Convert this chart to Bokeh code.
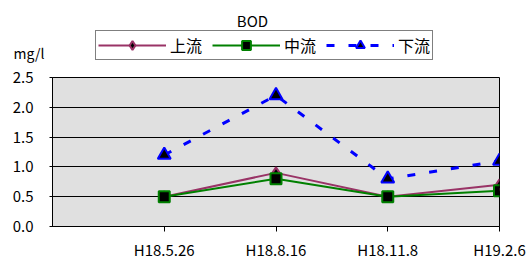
from bokeh.plotting import figure
from bokeh.layouts import column
from bokeh.models import Range1d, FixedTicker, NumeralTickFormatter, Legend, LegendItem, Label
from bokeh.embed import file_html
from bokeh.resources import INLINE

dates = ["H18.5.26", "H18.8.16", "H18.11.8", "H19.2.6"]
upstream = [0.5, 0.9, 0.5, 0.7]
midstream = [0.5, 0.8, 0.5, 0.6]
downstream = [1.2, 2.2, 0.8, 1.1]
y_ticks = [0.0, 0.5, 1.0, 1.5, 2.0, 2.5]
series_names = ["上流", "中流", "下流"]

FONT = "Noto Sans CJK JP"
xs = list(range(1, len(dates) + 1))
series = [upstream, midstream, downstream]

styles = [
    dict(color="#993366", width=2, dash="solid", marker="diamond", size=11),
    dict(color="#008000", width=2, dash="solid", marker="square", size=11),
    dict(color="#0000ff", width=3, dash="8 14", marker="triangle", size=13),
]

# ---------- header (title, unit, legend) ----------
W = 529
HEAD_H = 67
head = figure(width=W, height=HEAD_H, output_backend="svg", toolbar_location=None,
              x_range=Range1d(0, W), y_range=Range1d(HEAD_H, 0),
              x_axis_type=None, y_axis_type=None, min_border=0)
head.frame_align = False
head.outline_line_color = None
head.xgrid.grid_line_color = None
head.ygrid.grid_line_color = None
head.background_fill_color = "white"
head.border_fill_color = "white"

items = []
for name, vals, st in zip(series_names, series, styles):
    lr = head.line(xs, vals, line_color=st["color"], line_width=st["width"], line_dash=st["dash"],
                   visible=False)
    mr = head.scatter(xs, vals, marker=st["marker"], size=st["size"], fill_color="black",
                      line_color=st["color"], line_width=2, visible=False)
    items.append(LegendItem(label=name, renderers=[lr, mr]))

legend = Legend(items=items, orientation="horizontal", location=(95, 7))
legend.glyph_width = 68
legend.glyph_height = 22
legend.label_height = 20
legend.label_standoff = 4
legend.spacing = 10
legend.padding = 2
legend.margin = 0
legend.border_line_color = "black"
legend.border_line_width = 1
legend.background_fill_color = "white"
legend.background_fill_alpha = 1
legend.inactive_fill_alpha = 0
legend.label_text_font = FONT
legend.label_text_font_size = "16px"
legend.label_text_color = "black"
head.add_layout(legend, "center")

head.add_layout(Label(x=252, y=20, text="BOD", text_align="center", text_baseline="middle",
                      text_font=FONT, text_font_size="15px", text_color="black"))
head.add_layout(Label(x=13, y=52, text="mg/l", text_align="left", text_baseline="middle",
                      text_font=FONT, text_font_size="14px", text_color="black"))

# ---------- main chart ----------
p = figure(width=W, height=262 - HEAD_H, output_backend="svg", toolbar_location=None,
           x_range=Range1d(0, len(dates)), y_range=Range1d(0, 2.5),
           min_border_left=52, min_border_right=30, min_border_top=10, min_border_bottom=34)
p.frame_align = False

p.background_fill_color = "#e0e0e0"
p.border_fill_color = "white"
p.outline_line_color = "black"
p.outline_line_width = 1

p.xgrid.grid_line_color = None
p.ygrid.ticker = FixedTicker(ticks=y_ticks)
p.ygrid.grid_line_color = "black"
p.ygrid.grid_line_width = 1

p.xaxis.ticker = FixedTicker(ticks=xs)
p.xaxis.major_label_overrides = {i: d for i, d in zip(xs, dates)}
p.xaxis.major_tick_in = 0
p.xaxis.major_tick_out = 5
p.xaxis.minor_tick_line_color = None
p.xaxis.major_label_standoff = 7
p.yaxis.ticker = FixedTicker(ticks=y_ticks)
p.yaxis.formatter = NumeralTickFormatter(format="0.0")
p.yaxis.major_tick_in = 0
p.yaxis.major_tick_out = 3
p.yaxis.minor_tick_line_color = None
p.yaxis.major_label_standoff = 16
for ax in (p.xaxis, p.yaxis):
    ax.axis_line_color = "black"
    ax.major_tick_line_color = "black"
    ax.major_label_text_font = FONT
    ax.major_label_text_font_size = "15px"
    ax.major_label_text_color = "black"

for vals, st in zip(series, styles):
    p.line(xs, vals, line_color=st["color"], line_width=st["width"], line_dash=st["dash"])
    p.scatter(xs, vals, marker=st["marker"], size=st["size"], fill_color="black",
              line_color=st["color"], line_width=2)

layout = column(head, p, spacing=0)
open("out.html", "w").write(file_html(layout, INLINE))
